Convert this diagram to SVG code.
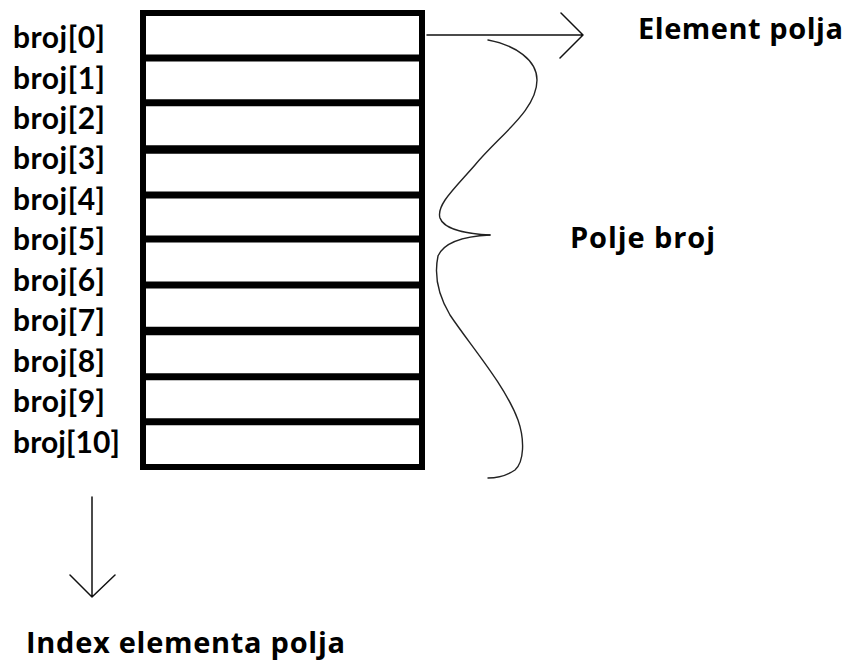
<svg xmlns="http://www.w3.org/2000/svg" width="848" height="661" viewBox="0 0 848 661">
<style>
.lbl{font-family:Lato,"Liberation Sans",sans-serif;font-weight:bold;font-size:30px;fill:#000}
.big{font-family:"Open Sans","DejaVu Sans",sans-serif;font-weight:bold;font-size:29px;fill:#000}
.cell{fill:none;stroke:#000;stroke-width:6}
.div{stroke:#000;stroke-width:7}
.con{fill:none;stroke:#111;stroke-width:1.5;stroke-linecap:round;stroke-linejoin:round}
.brace{fill:none;stroke:#222;stroke-width:1.4;stroke-linecap:round}
</style>
<rect width="848" height="661" fill="#fff"/>
<g id="array">
<rect class="cell" x="143" y="13" width="279" height="454"/>
<line class="div" x1="143" y1="58" x2="422" y2="58"/>
<line class="div" x1="143" y1="102.7" x2="422" y2="102.7"/>
<line class="div" x1="143" y1="149.5" x2="422" y2="149.5" style="stroke-width:8.5"/>
<line class="div" x1="143" y1="195" x2="422" y2="195"/>
<line class="div" x1="143" y1="239" x2="422" y2="239"/>
<line class="div" x1="143" y1="285" x2="422" y2="285"/>
<line class="div" x1="143" y1="331" x2="422" y2="331" style="stroke-width:8.5"/>
<line class="div" x1="143" y1="376.7" x2="422" y2="376.7"/>
<line class="div" x1="143" y1="421.7" x2="422" y2="421.7"/>
</g>
<g id="labels">
<text class="lbl" x="13" y="48" textLength="92">broj[0]</text>
<text class="lbl" x="13" y="88.5" textLength="92">broj[1]</text>
<text class="lbl" x="13" y="129" textLength="92">broj[2]</text>
<text class="lbl" x="13" y="169.4" textLength="92">broj[3]</text>
<text class="lbl" x="13" y="209.9" textLength="92">broj[4]</text>
<text class="lbl" x="13" y="250.4" textLength="92">broj[5]</text>
<text class="lbl" x="13" y="290.8" textLength="92">broj[6]</text>
<text class="lbl" x="13" y="331.3" textLength="92">broj[7]</text>
<text class="lbl" x="13" y="371.8" textLength="92">broj[8]</text>
<text class="lbl" x="13" y="412.2" textLength="92">broj[9]</text>
<text class="lbl" x="13" y="452.7" textLength="107">broj[10]</text>
</g>
<g id="element-polja">
<text class="big" x="638" y="38.5" textLength="205">Element polja</text>
</g>
<g id="polje-broj">
<text class="big" x="570" y="248" textLength="145">Polje broj</text>
</g>
<g id="index-elementa-polja">
<text class="big" x="26" y="653" textLength="319">Index elementa polja</text>
</g>
<g id="connectors">
<path class="con" d="M427,35 L583,35 M561,13 L583,35 L560,58"/>
<path class="con" d="M92,497 L92,597 M70,575 L92,597 L115,575"/>
<path class="brace" d="M488,40 C515,45 537,60 537,80 C537,110 500,135 475,165 C455,188 436,205 440,218 C444,230 470,234 490,235"/>
<path class="brace" d="M490,235 C470,236 445,240 438,256 C434,275 438,295 450,315 C470,345 505,385 518,420 C525,440 524,462 515,470 C506,476 495,478 488,478"/>
</g>
</svg>
